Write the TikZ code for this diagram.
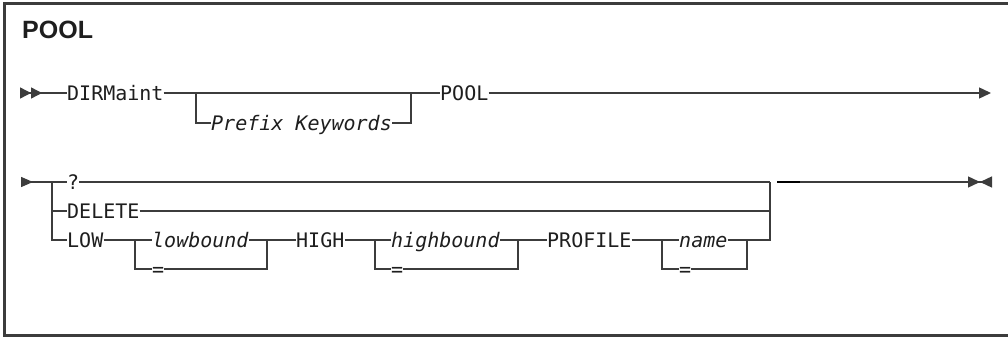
\documentclass[tikz,border=0pt]{standalone}
\usepackage{fontspec}
\newfontfamily\railfont{DejaVu Sans Mono}
\newfontfamily\headfont{Liberation Sans}
\usetikzlibrary{arrows.meta}
\definecolor{railgray}{HTML}{3C3C3C}
\definecolor{inkgray}{HTML}{1E1E1E}
\tikzstyle{kwtext} = [
    font=\railfont\fontsize{20}{24}\selectfont,
    text=inkgray,
    inner sep=0pt,
    text height=14.6pt,
    text depth=0pt,
    anchor=west
]
\tikzstyle{vartext} = [
    kwtext,
    font=\railfont\itshape\fontsize{20}{24}\selectfont
]
\tikzstyle{titletext} = [
    font=\headfont\bfseries\fontsize{25}{30}\selectfont,
    text=inkgray,
    inner sep=0pt,
    anchor=base west
]
\tikzstyle{rail} = [line width=1.4pt, draw=railgray]
\tikzstyle{framerule} = [line width=2.2pt, draw=railgray]
\tikzstyle{leadone} = [rail, {Triangle[reversed,length=12pt,width=10pt,sep=0pt]}-]
\tikzstyle{leadtwo} = [rail, {Triangle[reversed,length=11pt,width=11pt,sep=0pt]Triangle[reversed,length=11pt,width=11pt,sep=0pt]}-]
\tikzstyle{goon} = [rail, -{Triangle[length=12pt,width=11pt,sep=0pt]}]
\tikzstyle{stopmark} = [rail, -{Triangle[length=12pt,width=11pt,sep=0pt]Triangle[reversed,length=12pt,width=11pt,sep=0pt]}]

\begin{document}
\begin{tikzpicture}[x=1pt, y=-1pt]

\useasboundingbox (0,0) rectangle (1008,337);
\draw [framerule] (1008,3.5) -- (4.5,3.5) -- (4.5,335.5) -- (1008,335.5);

\node (title) [titletext] at (22,38) {POOL};

% first line
\coordinate (start1) at (20,93);
\node (dirmaint) [kwtext] at (67,93) {DIRMaint};
\node (prefix) [vartext] at (211,123) {Prefix Keywords};
\node (poolkw) [kwtext] at (440,93) {POOL};
\coordinate (pfxin) at (196,93);
\coordinate (pfxout) at (411,93);
\coordinate (end1) at (991,93);

\draw [leadtwo] (start1) -- (dirmaint);
\draw [rail] (dirmaint) -- (poolkw);
\draw [rail] (pfxin) |- (prefix);
\draw [rail] (prefix) -| (pfxout);
\draw [goon] (poolkw) -- (end1);

% second line
\coordinate (start2) at (21,182);
\coordinate (fork) at (52,182);
\node (query) [kwtext] at (67,182) {?};
\node (delete) [kwtext] at (67,211) {DELETE};
\node (low) [kwtext] at (67,240) {LOW};
\node (lowbound) [vartext] at (152,240) {lowbound};
\node (loweq) [kwtext] at (152,269) {=};
\node (high) [kwtext] at (296,240) {HIGH};
\node (highbound) [vartext] at (391,240) {highbound};
\node (higheq) [kwtext] at (391,269) {=};
\node (profile) [kwtext] at (547,240) {PROFILE};
\node (name) [vartext] at (679,240) {name};
\node (nameeq) [kwtext] at (679,269) {=};
\coordinate (lowin) at (135,240);
\coordinate (lowout) at (267,240);
\coordinate (highin) at (375,240);
\coordinate (highout) at (518,240);
\coordinate (namein) at (662,240);
\coordinate (nameout) at (747,240);
\coordinate (join) at (770,182);
\coordinate (mark1) at (777,182);
\coordinate (mark2) at (800,182);
\coordinate (end2) at (992,182);

\draw [leadone] (start2) -- (fork);
\draw [rail] (fork) -- (query);
\draw [rail] (fork) |- (delete);
\draw [rail] (fork) |- (low);
\draw [rail] (query) -- (join);
\draw [rail] (delete) -- (delete -| join);

\draw [rail] (low) -- (lowbound);
\draw [rail] (lowin) |- (loweq);
\draw [rail] (loweq) -| (lowout);
\draw [rail] (lowbound) -- (high);
\draw [rail] (high) -- (highbound);
\draw [rail] (highin) |- (higheq);
\draw [rail] (higheq) -| (highout);
\draw [rail] (highbound) -- (profile);
\draw [rail] (profile) -- (name);
\draw [rail] (namein) |- (nameeq);
\draw [rail] (nameeq) -| (nameout);
\draw [rail] (name) -- (nameout);
\draw [rail] (nameout) -| (join);

\draw [line width=2.2pt, draw=black] (mark1) -- (mark2);
\draw [stopmark] (mark2) -- (end2);

\end{tikzpicture}
\end{document}
